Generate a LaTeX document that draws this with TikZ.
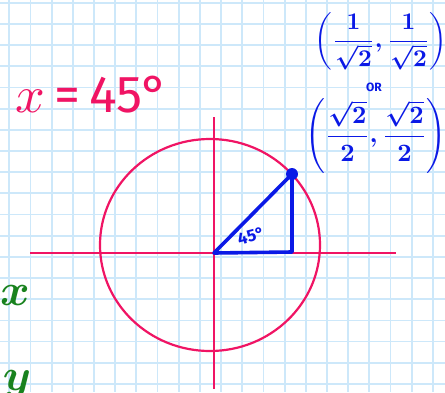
\documentclass[tikz,border=0pt]{standalone}
\usepackage{amsmath}
\usepackage{fontspec}
\setmainfont{Fira Sans}
\definecolor{gridblue}{RGB}{205,232,250}
\definecolor{hotpink}{RGB}{240,20,100}
\definecolor{penblue}{RGB}{10,25,230}
\definecolor{pengreen}{RGB}{25,130,30}
\tikzset{
  gridline/.style={gridblue, line width=1.8pt},
  pinkline/.style={hotpink, line width=2.2pt},
  blueline/.style={penblue, line width=3.6pt, line join=round, line cap=round},
  lbl/.style={inner sep=0pt, outer sep=0pt, transform shape}
}
\begin{document}
\begin{tikzpicture}[x=1pt,y=-1pt]
\useasboundingbox (0,0) rectangle (445,392);
\fill[white] (0,0) rectangle (445,392);
% grid paper
\foreach \i in {0,...,20} \draw[gridline] ({9.3+21.18*\i},0) -- ({9.3+21.18*\i},392);
\foreach \j in {0,...,18} \draw[gridline] (0,{2.7+21.18*\j}) -- (445,{2.7+21.18*\j});
% axes and circle
\coordinate (xl) at (30,253);
\coordinate (xr) at (396,253);
\coordinate (yt) at (214,117);
\coordinate (yb) at (214,389);
\draw[pinkline] (xl) -- (xr);
\draw[pinkline] (yt) -- (yb);
\draw[pinkline] (210,245) ellipse [x radius=110pt, y radius=106pt];
% triangle
\coordinate (O) at (214,253);
\coordinate (P) at (292,174);
\coordinate (F) at (292,252);
\draw[blueline] (O) -- (P) -- (F) -- (O);
\fill[penblue] (P) circle (6pt);
\node[lbl, penblue, rotate=15, scale=1.7, font=\bfseries] (ang) at (251,236) {45°};
% title
\node[lbl, hotpink, anchor=base west, scale=5.2] (title) at (16,112) {$x$\,=\,45°};
% coordinates of point
\node[lbl, penblue, scale=2.4, font=\boldmath] (c1) at (381,41) {$\left(\dfrac{1}{\sqrt{2}},\dfrac{1}{\sqrt{2}}\right)$};
\node[lbl, penblue, scale=1.2, font=\bfseries] (or) at (374,87) {OR};
\node[lbl, penblue, scale=2.5, font=\boldmath] (c2) at (376,136) {$\left(\dfrac{\sqrt{2}}{2},\dfrac{\sqrt{2}}{2}\right)$};
% axis letters
\node[lbl, pengreen, scale=4.5, anchor=base, font=\boldmath] (lx) at (15,305) {$x$};
\node[lbl, pengreen, scale=4.5, anchor=base, font=\boldmath] (ly) at (17,390) {$y$};
\end{tikzpicture}
\end{document}
